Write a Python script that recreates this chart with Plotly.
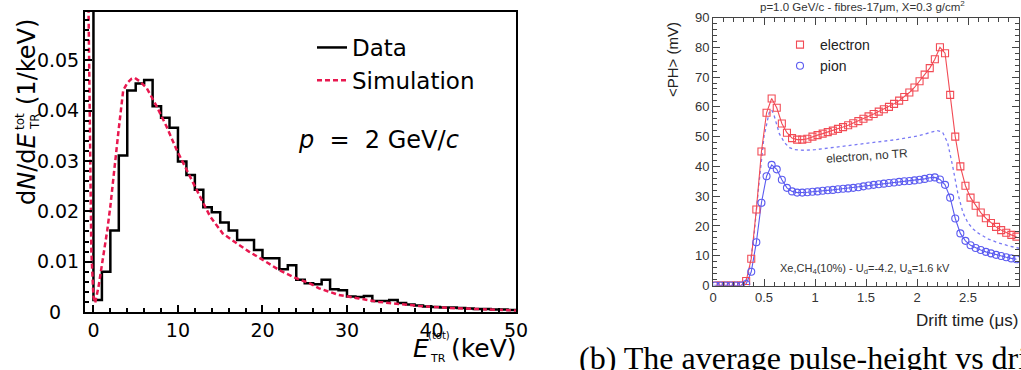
import plotly.graph_objects as go

W, H = 1021, 370

# ---------------- Left panel: total TR energy spectrum ----------------
bin_edges = [-1, 0, 1, 2, 3, 4, 5, 6, 7, 8, 9, 10, 11, 12, 13, 14, 15, 16, 17, 18, 19,
             20, 21, 22, 23, 24, 25, 26, 27, 28, 29, 30, 31, 32, 33, 34, 35, 36, 37, 38,
             39, 40, 41, 42, 43, 44, 45, 46, 47, 48, 49, 50]
data_density = [0.2000, 0.0024, 0.0080, 0.0162, 0.0311, 0.0440, 0.0454, 0.0461, 0.0409,
                0.0386, 0.0366, 0.0299, 0.0272, 0.0243, 0.0208, 0.0198, 0.0178, 0.0162,
                0.0143, 0.0143, 0.0123, 0.0107, 0.0107, 0.0085, 0.0093, 0.0064, 0.0057,
                0.0055, 0.0064, 0.0045, 0.0043, 0.0031, 0.0030, 0.0032, 0.0022, 0.0022,
                0.0024, 0.0018, 0.0015, 0.0013, 0.0011, 0.0010, 0.0009, 0.0009, 0.0008,
                0.0007, 0.0006, 0.0006, 0.0005, 0.0005, 0.0004]

sim_energy = [-0.65, -0.45, -0.25, 0.0, 0.2, 0.6, 1.0, 1.3, 1.63, 2.0, 2.3, 2.62, 3.0,
              3.52, 4.0, 4.5, 4.9, 5.5, 6.3, 7.5, 8.66, 9.85, 11.0, 12.2, 13.8, 15.3,
              16.9, 18.4, 20.4, 22.0, 24.0, 25.6, 26.7, 29.0, 31.4, 33.8, 36.1, 38.5,
              42.0, 46.0, 50.0]
sim_density = [0.070, 0.035, 0.012, 0.003, 0.0018, 0.005, 0.009, 0.0125, 0.0162, 0.021,
               0.026, 0.0311, 0.0365, 0.0440, 0.0455, 0.0463, 0.0465, 0.0458, 0.0445,
               0.0408, 0.0368, 0.0322, 0.0282, 0.0243, 0.0190, 0.0156, 0.0137, 0.0120,
               0.0100, 0.0083, 0.0067, 0.0057, 0.0047, 0.0034, 0.0027, 0.0020, 0.0016,
               0.0012, 0.0008, 0.0005, 0.0003]

left_ytick_vals = [0, 0.01, 0.02, 0.03, 0.04, 0.05]
left_ytick_text = ["0\u00a0\u00a0\u00a0", "0.01", "0.02", "0.03", "0.04", "0.05"]

# ---------------- Right panel: average pulse height vs drift time ----------------
drift_time = [0.025, 0.075, 0.125, 0.175, 0.225, 0.275, 0.325, 0.375, 0.425, 0.475,
              0.525, 0.575, 0.625, 0.675, 0.725, 0.775, 0.825, 0.875, 0.925, 0.975,
              1.025, 1.075, 1.125, 1.175, 1.225, 1.275, 1.325, 1.375, 1.425, 1.475,
              1.525, 1.575, 1.625, 1.675, 1.725, 1.775, 1.825, 1.875, 1.925, 1.975,
              2.025, 2.075, 2.125, 2.175, 2.225, 2.275, 2.325, 2.375, 2.425, 2.475,
              2.525, 2.575, 2.625, 2.675, 2.725, 2.775, 2.825, 2.875, 2.925, 2.975]
electron_ph = [0, 0, 0, 0, 0, 0, 1.5, 9.0, 25.5, 45.0,
               58.0, 62.8, 59.7, 54.4, 51.3, 49.5, 49.0, 49.0, 49.3, 50.0,
               50.5, 51.0, 51.5, 52.0, 52.6, 53.2, 53.8, 54.5, 55.2, 56.0,
               56.8, 57.6, 58.4, 59.2, 60.0, 61.0, 62.1, 63.3, 64.8, 66.5,
               68.6, 70.8, 73.0, 76.0, 80.0, 78.0, 64.0, 50.0, 40.0, 33.5,
               29.5, 26.8, 24.5, 22.6, 21.0, 19.7, 18.6, 17.7, 17.0, 16.4]
pion_ph = [0, 0, 0, 0, 0, 0, 0.5, 4.6, 14.5, 27.8,
           36.7, 40.5, 39.0, 35.5, 32.8, 31.6, 31.2, 31.2, 31.3, 31.5,
           31.6, 31.8, 32.0, 32.1, 32.3, 32.5, 32.6, 32.8, 33.0, 33.3,
           33.6, 33.8, 34.0, 34.2, 34.4, 34.6, 34.8, 35.0, 35.1, 35.3,
           35.5, 35.8, 36.2, 36.3, 35.6, 33.8, 29.5, 22.5, 17.5, 15.0,
           13.5, 12.6, 11.9, 11.3, 10.8, 10.3, 9.9, 9.5, 9.1, 8.8]
notr_time = [0.0, 0.3, 0.35, 0.4, 0.45, 0.5, 0.55, 0.575, 0.6, 0.65, 0.7, 0.75, 0.8, 0.9,
             1.0, 1.2, 1.4, 1.6, 1.8, 2.0, 2.1, 2.2, 2.25, 2.3, 2.35, 2.4, 2.45, 2.5,
             2.55, 2.6, 2.7, 2.8, 2.9, 3.0]
notr_ph = [0.0, 0.0, 4.0, 16.0, 34.0, 50.0, 58.0, 59.0, 57.0, 51.0, 48.0, 46.3, 45.6, 45.4,
           45.6, 46.4, 47.2, 48.0, 49.0, 50.2, 51.0, 52.0, 51.5, 48.0, 40.0, 31.0, 24.5,
           21.0, 19.0, 17.6, 15.6, 14.3, 13.3, 12.5]


def px(x):
    return x / W


def py(y):
    return 1 - y / H


RED = "#f24b55"
BLUE = "#5b5bf0"
SIMRED = "#e8184f"

fig = go.Figure()

# histogram as step line
fig.add_trace(go.Scatter(
    x=bin_edges, y=data_density + [data_density[-1]],
    mode="lines", line=dict(color="black", width=2.5, shape="hv"),
    name="Data", legend="legend", xaxis="x", yaxis="y"))
fig.add_trace(go.Scatter(
    x=sim_energy, y=sim_density, mode="lines",
    line=dict(color=SIMRED, width=2.5, dash="5px,3px"),
    name="Simulation", legend="legend", xaxis="x", yaxis="y"))

# right panel
fig.add_trace(go.Scatter(
    x=notr_time, y=notr_ph, mode="lines",
    line=dict(color="#7a7af5", width=1.3, dash="3px,3px"),
    showlegend=False, xaxis="x2", yaxis="y2"))
fig.add_trace(go.Scatter(
    x=drift_time, y=electron_ph, mode="lines",
    line=dict(color=RED, width=1.1), showlegend=False, xaxis="x2", yaxis="y2"))
fig.add_trace(go.Scatter(
    x=drift_time, y=pion_ph, mode="lines",
    line=dict(color=BLUE, width=1.1), showlegend=False, xaxis="x2", yaxis="y2"))
fig.add_trace(go.Scatter(
    x=drift_time, y=electron_ph, mode="markers",
    marker=dict(symbol="square-open", size=7, color=RED, line=dict(width=1.1)),
    name="electron", legend="legend2", xaxis="x2", yaxis="y2"))
fig.add_trace(go.Scatter(
    x=drift_time, y=pion_ph, mode="markers",
    marker=dict(symbol="circle-open", size=7, color=BLUE, line=dict(width=1.1)),
    name="pion", legend="legend2", xaxis="x2", yaxis="y2"))

LFONT = "DejaVu Sans"
RFONT = "Liberation Sans, Arial, sans-serif"

annotations = []


def ann(text, x, y, size, family=LFONT, color="black", angle=0, xanchor="center",
        yanchor="middle"):
    annotations.append(dict(text=text, x=px(x), y=py(y), xref="paper", yref="paper",
                            showarrow=False, textangle=angle, xanchor=xanchor,
                            yanchor=yanchor, borderpad=0,
                            font=dict(size=size, family=family, color=color)))


# left y-title (stacked sup/sub)
ann("d<i>N</i>/d<i>E</i>", 27, 169, 24, angle=-90)
ann("tot", 20, 122, 12, angle=-90)
ann("TR", 35, 122, 12, angle=-90)
ann("(1/keV)", 27, 62, 24, angle=-90)
# left x-title
ann("<i>E</i>", 421, 348, 25)
ann("(tot)", 439, 335, 10)
ann("TR", 438, 358, 11)
ann("(keV)", 484, 348, 25)
# p = 2 GeV/c
ann("<i>p</i>\u00a0\u00a0=\u00a0\u00a02\u00a0GeV/<i>c</i>", 378, 140, 24)

# right panel texts
ann("p=1.0 GeV/c - fibres-17\u03bcm, X=0.3 g/cm<sup>2</sup>", 862, 6, 11.5, RFONT, "#333")
ann("&lt;PH&gt; (mV)", 672, 60, 15, RFONT, "#222", angle=-90)
ann("Drift time (\u03bcs)", 1019, 320, 17, RFONT, "#222", xanchor="right")
ann("electron, no TR", 867, 156, 12, RFONT, "#333", angle=-4)
ann("Xe,CH<sub>4</sub>(10%) - U<sub>d</sub>=-4.2, U<sub>a</sub>=1.6 kV", 865, 269, 11,
    RFONT, "#333")

# caption (cut at figure edge)
ann("(b) The average pulse-height vs drift time", 578, 358, 32,
    "Liberation Serif, serif", "black", xanchor="left")

common = dict(showgrid=False, zeroline=False, automargin=False, ticks="inside")

fig.update_layout(
    width=W, height=H,
    margin=dict(l=0, r=0, t=0, b=0, autoexpand=False),
    paper_bgcolor="white", plot_bgcolor="white",
    annotations=annotations,
    xaxis=dict(domain=[px(85), px(516)], range=[-1, 50], anchor="y",
               tick0=0, dtick=10, ticklen=7, tickwidth=1.5, tickcolor="black",
               minor=dict(dtick=2, ticks="inside", ticklen=4, tickcolor="black"),
               showline=True, linecolor="black", linewidth=2, mirror=True,
               tickfont=dict(family=LFONT, size=19, color="black"), **common),
    yaxis=dict(domain=[py(312), py(12)], range=[0, 0.0596], anchor="x",
               tickmode="array", tickvals=left_ytick_vals, ticktext=left_ytick_text,
               ticklen=7, tickwidth=1.5, tickcolor="black",
               minor=dict(tick0=0, dtick=0.002, ticks="inside", ticklen=4,
                          tickcolor="black"),
               showline=True, linecolor="black", linewidth=2, mirror=True,
               tickfont=dict(family=LFONT, size=19, color="black"), **common),
    xaxis2=dict(domain=[px(713), px(1019)], range=[0, 3], anchor="y2",
                tick0=0, dtick=0.5, ticklen=7, tickcolor="#444",
                minor=dict(dtick=0.1, ticks="inside", ticklen=4, tickcolor="#444"),
                showline=True, linecolor="#444", linewidth=1, mirror="allticks",
                tickfont=dict(family=RFONT, size=13, color="#333"), **common),
    yaxis2=dict(domain=[py(285.5), py(17.5)], range=[0, 90], anchor="x2",
                tick0=0, dtick=10, ticklen=7, tickcolor="#444",
                minor=dict(dtick=2, ticks="inside", ticklen=4, tickcolor="#444"),
                showline=True, linecolor="#444", linewidth=1, mirror="allticks",
                tickfont=dict(family=RFONT, size=13, color="#333"), **common),
    legend=dict(x=px(312), y=py(26), xanchor="left", yanchor="top",
                bgcolor="rgba(0,0,0,0)", font=dict(family=LFONT, size=23, color="black")),
    legend2=dict(x=px(780), y=py(29), xanchor="left", yanchor="top",
                 bgcolor="rgba(0,0,0,0)", font=dict(family=RFONT, size=14, color="#222")),
)

fig.write_html("out.html", config={"displayModeBar": False},
               post_script="document.body.style.margin='0px';")
